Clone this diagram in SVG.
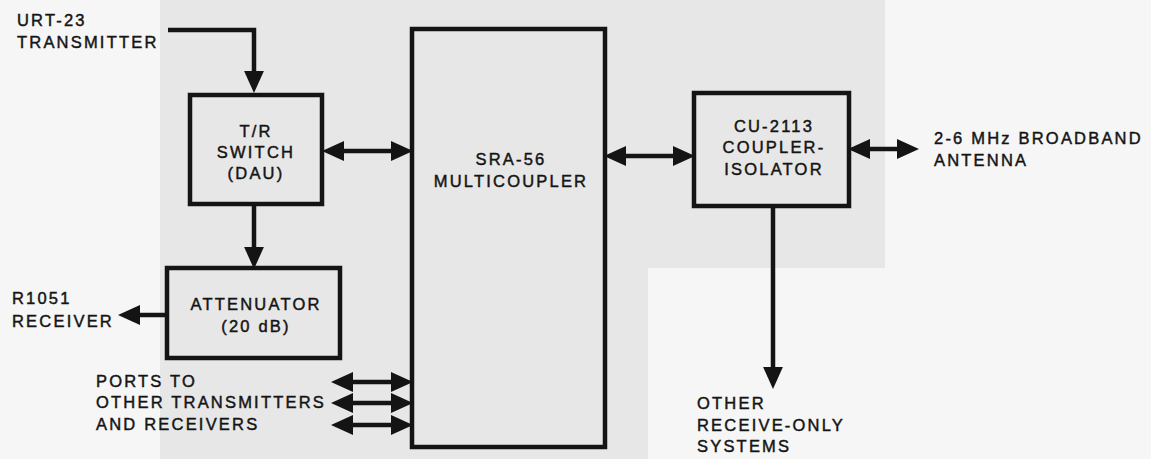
<svg xmlns="http://www.w3.org/2000/svg" width="1151" height="459" viewBox="0 0 1151 459">
<defs>
<style>
text{font-family:"Liberation Sans",Arial,sans-serif;font-size:16.5px;letter-spacing:2.2px;fill:#141414;stroke:#141414;stroke-width:0.45px}
.c{text-anchor:middle}
.box{fill:none;stroke:#141414;stroke-width:4.5}
.ln{fill:none;stroke:#141414;stroke-width:4.5}
.one{marker-end:url(#ah)}
.two{marker-start:url(#ah);marker-end:url(#ah)}
</style>
<marker id="ah" markerUnits="userSpaceOnUse" markerWidth="22" markerHeight="20" refX="10" refY="9" orient="auto-start-reverse" viewBox="0 0 20 18">
<path d="M0,0 L20,9 L0,18 Z" fill="#141414"/>
</marker>
</defs>
<rect width="1151" height="459" fill="#f6f6f6"/>
<path d="M160,0 H885 V268 H648 V459 H160 Z" fill="#e7e7e7"/>
<g id="label-urt23">
<text x="17" y="26">URT-23</text>
<text x="17" y="48">TRANSMITTER</text>
</g>
<g id="tr-switch">
<rect class="box" x="190" y="95" width="132" height="109"/>
<text class="c" x="256" y="137">T/R</text>
<text class="c" x="256" y="158">SWITCH</text>
<text class="c" x="256" y="179">(DAU)</text>
</g>
<g id="attenuator">
<rect class="box" x="167" y="268" width="173" height="90"/>
<text class="c" x="256" y="310">ATTENUATOR</text>
<text class="c" x="256" y="332">(20 dB)</text>
</g>
<g id="label-r1051">
<text x="12" y="304">R1051</text>
<text x="12" y="327">RECEIVER</text>
</g>
<g id="label-ports">
<text x="96" y="387">PORTS TO</text>
<text x="96" y="408">OTHER TRANSMITTERS</text>
<text x="96" y="430">AND RECEIVERS</text>
</g>
<g id="sra56">
<rect class="box" x="412" y="29" width="193" height="418"/>
<text class="c" x="511" y="165">SRA-56</text>
<text class="c" x="511" y="187">MULTICOUPLER</text>
</g>
<g id="cu2113">
<rect class="box" x="694" y="93" width="155" height="113"/>
<text class="c" x="774" y="132">CU-2113</text>
<text class="c" x="774" y="153">COUPLER-</text>
<text class="c" x="774" y="175">ISOLATOR</text>
</g>
<g id="label-antenna">
<text x="934" y="144">2-6 MHz BROADBAND</text>
<text x="934" y="166">ANTENNA</text>
</g>
<g id="label-other">
<text x="697" y="409">OTHER</text>
<text x="697" y="431">RECEIVE-ONLY</text>
<text x="697" y="452">SYSTEMS</text>
</g>
<g id="connectors">
<path class="ln one" d="M168,30 H254 V82"/>
<path class="ln one" d="M254,206 V258"/>
<path class="ln one" d="M165,315 H129"/>
<path class="ln two" d="M333,151 H402"/>
<path class="ln two" d="M615,156 H684"/>
<path class="ln two" d="M859,149 H908"/>
<path class="ln one" d="M773,208 V378"/>
<path class="ln two" d="M342,382 H402"/>
<path class="ln two" d="M342,403 H402"/>
<path class="ln two" d="M342,425 H402"/>
</g>
</svg>
